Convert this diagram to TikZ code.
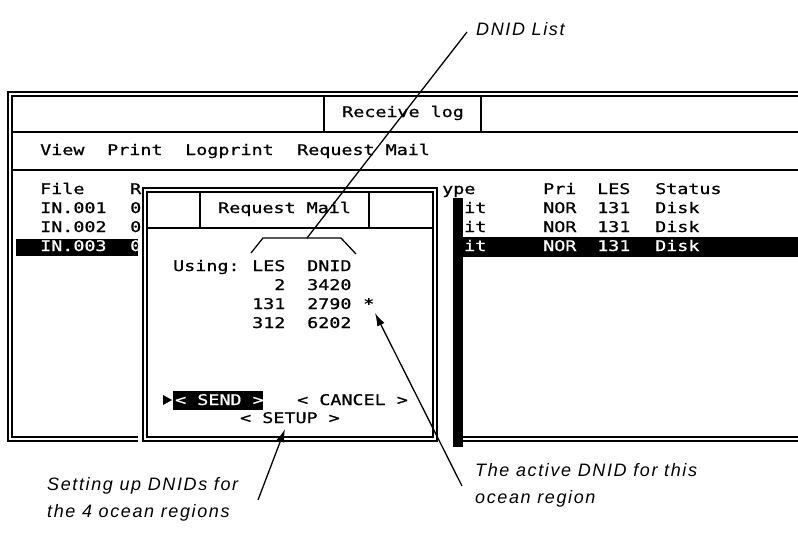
\documentclass[tikz,border=0pt]{standalone}
\usepackage{fontspec}
\usetikzlibrary{arrows.meta}
\newfontfamily\scrfont[FakeStretch=1.25,FakeBold=0.8]{DejaVu Sans Mono}
\newfontfamily\notefont[LetterSpace=9]{Liberation Sans}
\tikzset{
  scr/.style={inner sep=0pt,anchor=base west,font=\scrfont\fontsize{14.7}{17}\selectfont},
  inv/.style={scr,text=white},
  note/.style={inner sep=0pt,anchor=base west,font=\notefont\itshape\fontsize{18}{22}\selectfont},
  frame/.style={line width=1.3pt},
  lead/.style={line width=1.3pt},
  arr/.style={lead,-{Latex[length=13pt,width=8pt]}},
}

\begin{document}
\begin{tikzpicture}[x=1pt,y=-1pt]
\useasboundingbox (0,0) rectangle (798,539);
\begin{scope}
  \clip (0,0) rectangle (798,539);
  % receive log window
  \draw[frame] (8,92) rectangle (810,441);
  \draw[frame] (12,96) rectangle (810,437);
  \draw[frame] (12,132) -- (810,132);
  \draw[frame] (12,170) -- (810,170);
  \draw[frame] (324,96) -- (324,132);
  \draw[frame] (481,96) -- (481,132);
  % selected line
  \fill (16,239) rectangle (138,256);
  \fill (463,237) rectangle (810,257);
  % room for the dialog and its shadow
  \fill[white] (138,186) rectangle (453,446);
  \fill (453,198) rectangle (463,447);
\end{scope}

\node[scr] (wtitle) at (342,117) {Receive log};
\node[scr] (mview) at (40,155) {View};
\node[scr] (mprint) at (107,155) {Print};
\node[scr] (mlog) at (185,155) {Logprint};
\node[scr] (mreq) at (297,155) {Request Mail};

% list columns
\node[scr] (hfile) at (40,194) {File};
\node[scr] (hr) at (130,194) {R};
\node[scr] (htype) at (442,194) {ype};
\node[scr] (hpri) at (543,194) {Pri};
\node[scr] (hles) at (597,194) {LES};
\node[scr] (hstat) at (655,194) {Status};
\foreach \n/\y in {1/213,2/232}{
  \node[scr] (f\n) at (40,\y) {IN.00\n};
  \node[scr] (r\n) at (130,\y) {0};
  \node[scr] (t\n) at (464,\y) {it};
  \node[scr] (p\n) at (543,\y) {NOR};
  \node[scr] (l\n) at (597,\y) {131};
  \node[scr] (s\n) at (655,\y) {Disk};
}
\node[inv] (f3) at (40,251) {IN.003};
\node[inv] (r3) at (130,251) {0};
\node[inv] (t3) at (464,251) {it};
\node[inv] (p3) at (543,251) {NOR};
\node[inv] (l3) at (597,251) {131};
\node[inv] (s3) at (655,251) {Disk};

% request mail dialog
\draw[frame] (143,188) rectangle (437,441);
\draw[frame] (147,192) rectangle (433,437);
\draw[frame] (147,228) -- (433,228);
\draw[frame] (200,192) -- (200,228);
\draw[frame] (369,192) -- (369,228);
\node[scr] (dtitle) at (218,213) {Request Mail};

\node[scr] (using) at (173,271) {Using:};
\node[scr] (cles) at (252,271) {LES};
\node[scr] (cdnid) at (307,271) {DNID};
\node[scr] (les1) at (274,290) {2};
\node[scr] (dnid1) at (307,290) {3420};
\node[scr] (les2) at (252,309) {131};
\node[scr] (dnid2) at (307,309) {2790};
\node[scr] (star) at (363,309) {*};
\node[scr] (les3) at (252,328) {312};
\node[scr] (dnid3) at (307,328) {6202};

% buttons
\fill (163,395) -- (172,400) -- (163,405) -- cycle;
\fill (173,391) rectangle (263,410);
\node[inv] (send) at (175,405) {< SEND >};
\node[scr] (cancel) at (297,405) {< CANCEL >};
\node[scr] (setup) at (240,423) {< SETUP >};

% bracket over the list
\draw[lead] (251,253) -- (263,238) -- (341,238) -- (356,254);
\coordinate (brtop) at (307,238);

% callouts
\node[note] (nlist) at (476,35) {DNID List};
\coordinate (listend) at (467,32);
\draw[lead] (brtop) -- (listend);

\node[note] (nsetup1) at (47,490) {Setting up DNIDs for};
\node[note] (nsetup2) at (47,517) {the 4 ocean regions};
\coordinate (setupend) at (258,500);
\coordinate (setuptip) at (285,429);
\draw[arr] (setupend) -- (setuptip);

\node[note] (nact1) at (475,476) {The active DNID for this};
\node[note] (nact2) at (475,503) {ocean region};
\coordinate (actend) at (462,486);
\coordinate (acttip) at (375,313);
\draw[arr] (actend) -- (acttip);
\end{tikzpicture}
\end{document}
